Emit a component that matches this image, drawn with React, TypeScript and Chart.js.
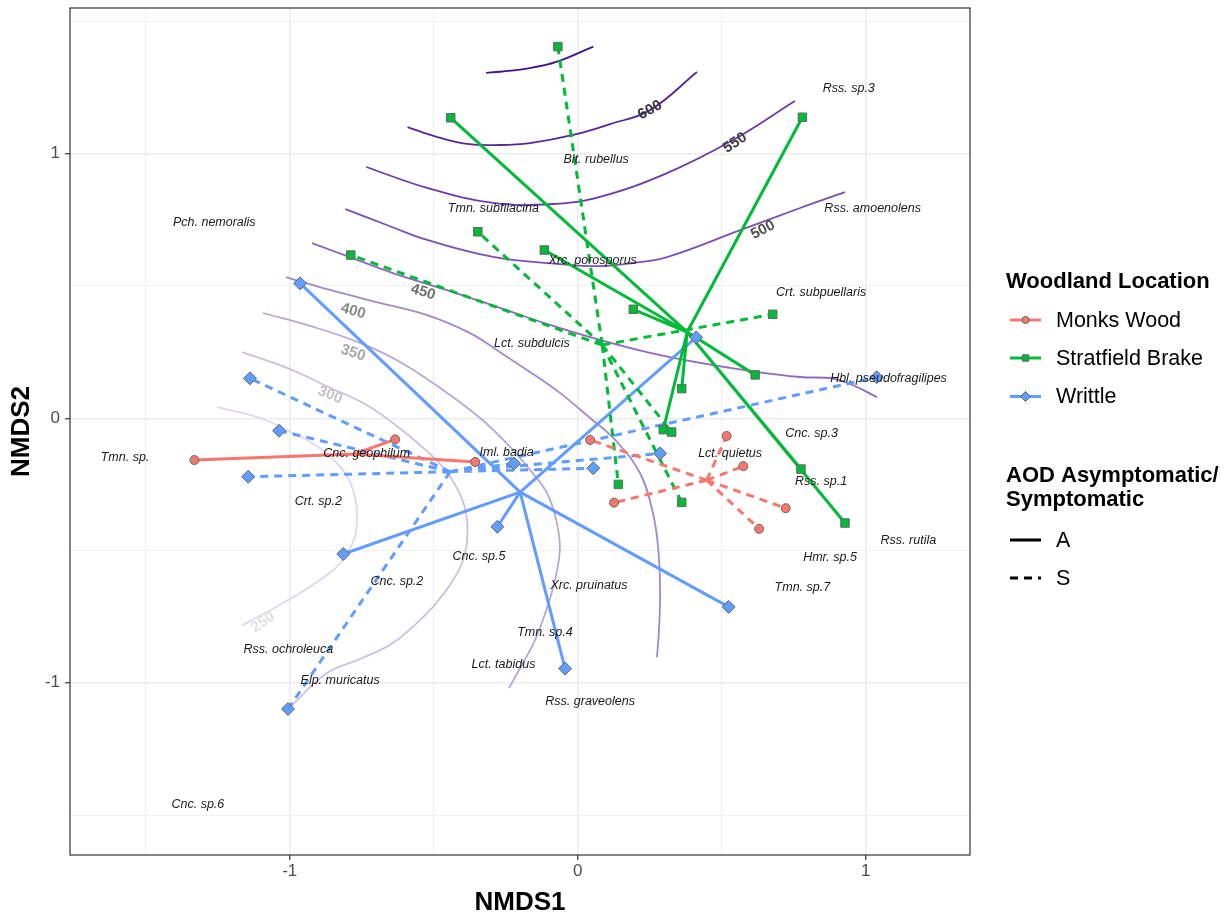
import React, { useEffect, useRef } from 'react';
import { Chart, registerables } from 'chart.js';

Chart.register(...registerables);

const FONT = '"Liberation Sans", Arial, Helvetica, sans-serif';

// ---------- axes ----------
const X_MIN = -1.763;
const X_MAX = 1.362;
const Y_MIN = -1.651;
const Y_MAX = 1.551;
const xGridTicks = [-1.5, -1, -0.5, 0, 0.5, 1];
const yGridTicks = [-1.5, -1, -0.5, 0, 0.5, 1, 1.5];
const majorTicks = [-1, 0, 1];

// ---------- site scores (NMDS1, NMDS2) ----------
const monksWoodA: number[][] = [[-1.331, -0.158], [-0.634, -0.080], [-0.356, -0.165]];
const monksWoodS: number[][] = [[0.043, -0.082], [0.517, -0.067], [0.575, -0.181], [0.126, -0.319], [0.722, -0.340], [0.630, -0.418]];
const stratfieldA: number[][] = [[-0.441, 1.136], [0.780, 1.138], [-0.116, 0.636], [0.193, 0.412], [0.361, 0.112], [0.616, 0.164], [0.297, -0.043], [0.775, -0.192], [0.928, -0.396]];
const stratfieldS: number[][] = [[-0.069, 1.405], [-0.347, 0.705], [-0.788, 0.617], [0.677, 0.393], [0.326, -0.052], [0.141, -0.250], [0.361, -0.318]];
const writtleA: number[][] = [[-0.964, 0.510], [-0.814, -0.513], [-0.279, -0.410], [-0.044, -0.946], [0.524, -0.713], [0.411, 0.306]];
const writtleS: number[][] = [[-1.138, 0.151], [-1.037, -0.047], [-1.144, -0.221], [-1.006, -1.099], [-0.221, -0.171], [0.054, -0.189], [0.286, -0.133], [1.038, 0.155]];

// group centroids
const monksWoodCentroidA = [-0.776, -0.135];
const monksWoodCentroidS = [0.448, -0.234];
const stratfieldCentroidA = [0.380, 0.326];
const stratfieldCentroidS = [0.085, 0.277];
const writtleCentroidA = [-0.200, -0.279];
const writtleCentroidS = [-0.443, -0.202];

const siteNames = ['Monks Wood', 'Stratfield Brake', 'Writtle'];
const statusNames = ['A', 'S'];

// ---------- species ----------
const speciesNames = [
  'Pch. nemoralis', 'Tmn. subfilacina', 'Blt. rubellus', 'Rss. sp.3', 'Rss. amoenolens', 'Xrc. porosporus',
  'Crt. subpuellaris', 'Lct. subdulcis', 'Hbl. pseudofragilipes', 'Tmn. sp.', 'Cnc. geophilum', 'Iml. badia',
  'Lct. quietus', 'Cnc. sp.3', 'Rss. sp.1', 'Crt. sp.2', 'Cnc. sp.5', 'Rss. rutila', 'Hmr. sp.5', 'Cnc. sp.2',
  'Xrc. pruinatus', 'Tmn. sp.7', 'Tmn. sp.4', 'Rss. ochroleuca', 'Lct. tabidus', 'Elp. muricatus',
  'Rss. graveolens', 'Cnc. sp.6',
];
const speciesX = [
  -1.262, -0.293, 0.064, 0.941, 1.024, 0.052,
  0.845, -0.159, 1.079, -1.572, -0.733, -0.247,
  0.529, 0.812, 0.845, -0.901, -0.343, 1.148, 0.876, -0.628,
  0.039, 0.780, -0.114, -1.005, -0.258, -0.825,
  0.043, -1.319,
];
const speciesY = [
  0.741, 0.794, 0.979, 1.247, 0.794, 0.596,
  0.476, 0.281, 0.149, -0.149, -0.135, -0.130,
  -0.135, -0.057, -0.240, -0.313, -0.521, -0.464, -0.526, -0.616,
  -0.631, -0.641, -0.811, -0.876, -0.930, -0.992,
  -1.072, -1.462,
];

// ---------- fitted surface contours ----------
const contourLevels = [250, 300, 350, 400, 450, 500, 550, 600, 650];
const contour250: number[][] = [[-1.252, 0.042], [-1.103, 0.001], [-0.989, -0.056], [-0.895, -0.113], [-0.815, -0.196], [-0.780, -0.271], [-0.766, -0.358], [-0.772, -0.440], [-0.795, -0.500], [-0.835, -0.560], [-0.900, -0.615], [-0.989, -0.677], [-1.068, -0.726], [-1.166, -0.783]];
const contour300: number[][] = [[-1.166, 0.250], [-0.999, 0.186], [-0.871, 0.121], [-0.739, 0.054], [-0.642, -0.018], [-0.548, -0.101], [-0.468, -0.185], [-0.416, -0.271], [-0.388, -0.358], [-0.384, -0.461], [-0.402, -0.548], [-0.433, -0.612], [-0.478, -0.680], [-0.523, -0.737], [-0.642, -0.850], [-0.756, -0.910], [-0.871, -0.963], [-0.999, -1.092]];
const contour350: number[][] = [[-1.093, 0.398], [-0.929, 0.349], [-0.756, 0.285], [-0.617, 0.213], [-0.468, 0.107], [-0.339, 0.001], [-0.235, -0.108], [-0.166, -0.195], [-0.107, -0.282], [-0.075, -0.384], [-0.062, -0.486], [-0.075, -0.592], [-0.103, -0.705], [-0.148, -0.838], [-0.200, -0.944], [-0.239, -1.020]];
const contour400: number[][] = [[-1.013, 0.534], [-0.860, 0.485], [-0.687, 0.436], [-0.523, 0.390], [-0.374, 0.322], [-0.270, 0.250], [-0.166, 0.175], [-0.062, 0.096], [0.043, 0.001], [0.130, -0.082], [0.216, -0.207], [0.261, -0.358], [0.279, -0.487], [0.286, -0.649], [0.282, -0.801], [0.275, -0.903]];
const contour450: number[][] = [[-0.923, 0.662], [-0.791, 0.609], [-0.642, 0.549], [-0.444, 0.481], [-0.270, 0.417], [-0.096, 0.353], [0.077, 0.296], [0.251, 0.247], [0.425, 0.209], [0.598, 0.179], [0.772, 0.156], [0.886, 0.150], [0.956, 0.125], [1.039, 0.080]];
const contour500: number[][] = [[-0.807, 0.791], [-0.652, 0.726], [-0.523, 0.674], [-0.294, 0.610], [-0.061, 0.583], [0.077, 0.575], [0.193, 0.587], [0.310, 0.609], [0.564, 0.711], [0.772, 0.795], [0.928, 0.855]];
const contour550: number[][] = [[-0.735, 0.950], [-0.523, 0.871], [-0.294, 0.814], [-0.086, 0.810], [0.077, 0.837], [0.310, 0.927], [0.539, 1.052], [0.754, 1.199]];
const contour600: number[][] = [[-0.591, 1.101], [-0.487, 1.063], [-0.384, 1.037], [-0.270, 1.033], [-0.166, 1.040], [-0.016, 1.071], [0.112, 1.112], [0.251, 1.165], [0.414, 1.309]];
const contour650: number[][] = [[-0.318, 1.306], [-0.270, 1.310], [-0.166, 1.324], [-0.072, 1.348], [0.054, 1.405]];

const contourLabelLevels = [250, 300, 350, 400, 450, 500, 550, 600];
const contourLabelX = [-1.093, -0.860, -0.780, -0.780, -0.537, 0.643, 0.546, 0.251];
const contourLabelY = [-0.771, 0.088, 0.247, 0.405, 0.477, 0.712, 1.041, 1.165];

// ---------- styles ----------
const siteColors = ['#F8766D', '#00BA38', '#619CFF'];
const siteShapes = ['circle', 'rect', 'rectRot'];
const siteRadius = [4.5, 6, 6.5];
const contourColors = ['#e0d6ee', '#cdbfe2', '#b9a6d6', '#a488c9', '#8e69bd', '#7b51b1', '#6c3aa8', '#57279a', '#45128a'];
const contourLabelColors = ['#dedede', '#c2c2c2', '#a6a6a6', '#8a8a8a', '#707070', '#505050', '#404040', '#353535'];
const contourLabelAngles = [-35, 22, 18, 16, 17, -27, -33, -29];
const DASH = [8, 6];

const toPts = (arr: number[][]) => arr.map(([x, y]) => ({ x, y }));
const spider = (arr: number[][], c: number[]) => {
  const out: { x: number; y: number }[] = [];
  arr.forEach(([x, y]) => {
    out.push({ x: c[0], y: c[1] }, { x, y }, { x: NaN, y: NaN });
  });
  return out;
};

function drawMarker(ctx: CanvasRenderingContext2D, shape: string, x: number, y: number, r: number, fill: string) {
  ctx.beginPath();
  if (shape === 'circle') {
    ctx.arc(x, y, r, 0, Math.PI * 2);
  } else if (shape === 'rect') {
    ctx.rect(x - r, y - r, 2 * r, 2 * r);
  } else {
    ctx.moveTo(x - r, y);
    ctx.lineTo(x, y - r);
    ctx.lineTo(x + r, y);
    ctx.lineTo(x, y + r);
    ctx.closePath();
  }
  ctx.fillStyle = fill;
  ctx.fill();
  ctx.lineWidth = 1;
  ctx.strokeStyle = '#666666';
  ctx.stroke();
}

const annotatePlugin = {
  id: 'annotate',
  afterDatasetsDraw(chart: any) {
    const { ctx, chartArea, scales } = chart;
    const xs = scales.x;
    const ys = scales.y;
    ctx.save();
    ctx.beginPath();
    ctx.rect(chartArea.left, chartArea.top, chartArea.right - chartArea.left, chartArea.bottom - chartArea.top);
    ctx.clip();
    // contour labels
    contourLabelLevels.forEach((lvl, i) => {
      const px = xs.getPixelForValue(contourLabelX[i]);
      const py = ys.getPixelForValue(contourLabelY[i]);
      ctx.save();
      ctx.translate(px, py);
      ctx.rotate((contourLabelAngles[i] * Math.PI) / 180);
      ctx.font = `bold 15px ${FONT}`;
      ctx.fillStyle = contourLabelColors[i];
      ctx.textAlign = 'center';
      ctx.textBaseline = 'middle';
      ctx.fillText(String(lvl), 0, 0);
      ctx.restore();
    });
    // species labels
    ctx.font = `italic 12.5px ${FONT}`;
    ctx.fillStyle = '#1a1a1a';
    ctx.textAlign = 'center';
    ctx.textBaseline = 'middle';
    speciesNames.forEach((name, i) => {
      ctx.fillText(name, xs.getPixelForValue(speciesX[i]), ys.getPixelForValue(speciesY[i]));
    });
    ctx.restore();

    // panel border
    ctx.save();
    ctx.strokeStyle = '#333333';
    ctx.lineWidth = 1.2;
    ctx.strokeRect(chartArea.left, chartArea.top, chartArea.right - chartArea.left, chartArea.bottom - chartArea.top);
    ctx.restore();
  },
  afterDraw(chart: any) {
    const { ctx, chartArea } = chart;
    ctx.save();
    // axis titles
    ctx.fillStyle = '#000000';
    ctx.font = `bold 26px ${FONT}`;
    ctx.textAlign = 'center';
    ctx.textBaseline = 'middle';
    ctx.fillText('NMDS1', (chartArea.left + chartArea.right) / 2, 903);
    ctx.save();
    ctx.translate(22, (chartArea.top + chartArea.bottom) / 2);
    ctx.rotate(-Math.PI / 2);
    ctx.fillText('NMDS2', 0, 0);
    ctx.restore();

    // legend
    const lx = 1006;
    ctx.textAlign = 'left';
    ctx.font = `bold 22px ${FONT}`;
    ctx.fillText('Woodland Location', lx, 282);
    const rowY = [320, 358, 396.5];
    siteNames.forEach((name, i) => {
      const yy = rowY[i];
      ctx.beginPath();
      ctx.moveTo(1010, yy);
      ctx.lineTo(1041, yy);
      ctx.strokeStyle = siteColors[i];
      ctx.lineWidth = 3;
      ctx.setLineDash([]);
      ctx.stroke();
      const r = siteShapes[i] === 'circle' ? 3.5 : siteShapes[i] === 'rect' ? 3.2 : 5;
      drawMarker(ctx, siteShapes[i], 1025.5, yy, r, siteColors[i]);
      ctx.fillStyle = '#000000';
      ctx.font = `21.5px ${FONT}`;
      ctx.fillText(name, 1056, yy + 1);
    });
    ctx.font = `bold 22px ${FONT}`;
    ctx.fillStyle = '#000000';
    ctx.fillText('AOD Asymptomatic/', lx, 476);
    ctx.fillText('Symptomatic', lx, 500);
    const rowY2 = [540, 578];
    statusNames.forEach((name, i) => {
      const yy = rowY2[i];
      ctx.beginPath();
      ctx.moveTo(1010, yy);
      ctx.lineTo(1041, yy);
      ctx.strokeStyle = '#000000';
      ctx.lineWidth = 3;
      ctx.setLineDash(i === 0 ? [] : DASH);
      ctx.stroke();
      ctx.setLineDash([]);
      ctx.fillStyle = '#000000';
      ctx.font = `21.5px ${FONT}`;
      ctx.fillText(name, 1056, yy + 1);
    });
    ctx.restore();
  },
};

export default function App() {
  const canvasRef = useRef<HTMLCanvasElement | null>(null);

  useEffect(() => {
    document.body.style.margin = '0';
    const canvas = canvasRef.current;
    if (!canvas) return;
    Chart.defaults.font.family = FONT;

    const contours = [contour250, contour300, contour350, contour400, contour450, contour500, contour550, contour600, contour650];
    const groups = [
      { A: monksWoodA, S: monksWoodS, cA: monksWoodCentroidA, cS: monksWoodCentroidS },
      { A: stratfieldA, S: stratfieldS, cA: stratfieldCentroidA, cS: stratfieldCentroidS },
      { A: writtleA, S: writtleS, cA: writtleCentroidA, cS: writtleCentroidS },
    ];

    const datasets: any[] = [];
    contours.forEach((pts, i) => {
      datasets.push({
        label: `surface ${contourLevels[i]}`,
        data: toPts(pts),
        showLine: true,
        borderColor: contourColors[i],
        borderWidth: 1.8,
        pointRadius: 0,
        tension: 0.4,
        fill: false,
        order: 30,
      });
    });
    groups.forEach((g, i) => {
      datasets.push({
        label: `${siteNames[i]} A`,
        data: spider(g.A, g.cA),
        showLine: true,
        spanGaps: false,
        borderColor: siteColors[i],
        borderWidth: 3,
        pointRadius: 0,
        fill: false,
        order: 20,
      });
      datasets.push({
        label: `${siteNames[i]} S`,
        data: spider(g.S, g.cS),
        showLine: true,
        spanGaps: false,
        borderColor: siteColors[i],
        borderWidth: 3,
        borderDash: DASH,
        pointRadius: 0,
        fill: false,
        order: 20,
      });
    });
    groups.forEach((g, i) => {
      datasets.push({
        label: `${siteNames[i]} points`,
        data: toPts([...g.A, ...g.S]),
        showLine: false,
        pointStyle: siteShapes[i],
        pointRadius: siteRadius[i],
        pointBackgroundColor: siteColors[i],
        pointBorderColor: '#666666',
        pointBorderWidth: 1,
        order: 10,
      });
    });

    const gridColor = (ctx: any) => (majorTicks.includes(ctx.tick?.value) ? '#ebebeb' : '#f0f0f0');
    const gridWidth = (ctx: any) => (majorTicks.includes(ctx.tick?.value) ? 1.5 : 1.1);
    const tickColor = (ctx: any) => (majorTicks.includes(ctx.tick?.value) ? '#333333' : 'rgba(0,0,0,0)');

    const chart = new Chart(canvas, {
      type: 'scatter',
      data: { datasets },
      options: {
        animation: false,
        responsive: false,
        devicePixelRatio: 1,
        events: [],
        layout: { padding: { left: 0, right: 260, top: 8, bottom: 0 } },
        plugins: { legend: { display: false }, tooltip: { enabled: false } },
        scales: {
          x: {
            type: 'linear',
            min: X_MIN,
            max: X_MAX,
            afterBuildTicks: (s: any) => {
              s.ticks = xGridTicks.map((v) => ({ value: v }));
            },
            afterFit: (s: any) => {
              s.height = 65;
              s.paddingLeft = 0;
              s.paddingRight = 0;
            },
            ticks: {
              autoSkip: false,
              maxRotation: 0,
              padding: 1,
              color: '#4d4d4d',
              font: { size: 17, family: FONT },
              callback: (v: any) => (majorTicks.includes(v) ? String(v) : ''),
            },
            grid: { color: gridColor, lineWidth: gridWidth, tickColor, tickLength: 5, tickWidth: 1.2 },
            border: { display: false },
          },
          y: {
            type: 'linear',
            min: Y_MIN,
            max: Y_MAX,
            afterBuildTicks: (s: any) => {
              s.ticks = yGridTicks.map((v) => ({ value: v }));
            },
            afterFit: (s: any) => {
              s.width = 70;
              s.paddingTop = 0;
              s.paddingBottom = 0;
            },
            ticks: {
              autoSkip: false,
              padding: 5,
              color: '#4d4d4d',
              font: { size: 17, family: FONT },
              callback: (v: any) => (majorTicks.includes(v) ? String(v) : ''),
            },
            grid: { color: gridColor, lineWidth: gridWidth, tickColor, tickLength: 5, tickWidth: 1.2 },
            border: { display: false },
          },
        },
      },
      plugins: [annotatePlugin],
    } as any);

    return () => chart.destroy();
  }, []);

  return (
    <div style={{ position: 'absolute', left: 0, top: 0, width: 1230, height: 920, background: '#ffffff' }}>
      <canvas ref={canvasRef} width={1230} height={920} style={{ width: 1230, height: 920, display: 'block' }} />
    </div>
  );
}
